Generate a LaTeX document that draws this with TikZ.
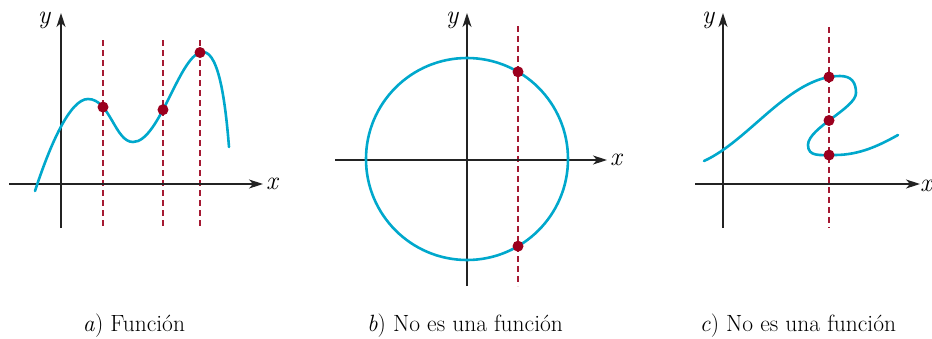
\documentclass[tikz,border=0pt]{standalone}
\usepackage{fontspec}
\usetikzlibrary{arrows.meta,intersections}
\definecolor{axisgrey}{RGB}{35,35,35}
\definecolor{curvecyan}{RGB}{0,168,204}
\definecolor{linered}{RGB}{165,25,50}
\definecolor{dotred}{RGB}{155,0,30}
\tikzset{
  axis/.style={draw=axisgrey,line width=1.1pt,
    -{Stealth[length=14pt,width=9pt,inset=4pt]}},
  graph/.style={draw=curvecyan,line width=2.6pt,line cap=round},
  vertline/.style={draw=linered,line width=1.3pt,dash pattern=on 6pt off 4pt},
  hit/.style={circle,fill=dotred,inner sep=0pt,minimum size=11pt},
  axlabel/.style={font=\fontsize{26}{26}\selectfont\itshape,inner sep=0pt},
  caption/.style={font=\fontsize{23.5}{26}\selectfont,anchor=base,inner sep=0pt}
}

\begin{document}
\begin{tikzpicture}[x=1pt,y=-1pt]
  \useasboundingbox (0,0) rectangle (932,338);

  % a) function
  \draw[vertline,name path=va1] (103,40) -- (103,228);
  \draw[vertline,name path=va2] (163,40) -- (163,228);
  \draw[vertline,name path=va3] (200,40) -- (200,228);
  \draw[axis] (9,184) -- (263,184);
  \draw[axis] (61,228) -- (61,13);
  \node[axlabel] (xa) at (272,184) {x};
  \node[axlabel] (ya) at (44,20) {y};
  \draw[graph,name path=fa] (35,191) .. controls (50,145) and (70,99) .. (88,99)
    .. controls (110,99) and (115,142) .. (133,142)
    .. controls (160,142) and (180,52) .. (203,52)
    .. controls (220,52) and (226,110) .. (229,147);
  \path[name intersections={of=fa and va1,by=pa1}];
  \path[name intersections={of=fa and va2,by=pa2}];
  \path[name intersections={of=fa and va3,by=pa3}];
  \node[hit] (dota1) at (pa1) {};
  \node[hit] (dota2) at (pa2) {};
  \node[hit] (dota3) at (pa3) {};
  \node[caption] (capa) at (134,331) {\textit{a}) Función};

  % b) circle
  \draw[vertline,name path=vb] (518,26) -- (518,286);
  \draw[axis] (335,160) -- (607,160);
  \draw[axis] (467,286) -- (467,13);
  \node[axlabel] (xb) at (616,160) {x};
  \node[axlabel] (yb) at (452,20) {y};
  \draw[graph,name path=fb] (467,159) circle[radius=101];
  \path[name intersections={of=fb and vb,by={pb1,pb2}}];
  \node[hit] (dotb1) at (pb1) {};
  \node[hit] (dotb2) at (pb2) {};
  \node[caption] (capb) at (465,331) {\textit{b}) No es una función};

  % c) s-curve
  \draw[vertline,name path=vc] (829,27) -- (829,228);
  \draw[axis] (695,184) -- (920,184);
  \draw[axis] (723,228) -- (723,13);
  \node[axlabel] (xc) at (926,186) {x};
  \node[axlabel] (yc) at (708,20) {y};
  \draw[graph,name path=fc] (704,161) .. controls (750,140) and (790,76) .. (840,76)
    .. controls (852,76) and (856,83) .. (856,93)
    .. controls (856,108) and (808,128) .. (808,145)
    .. controls (808,157) and (820,155) .. (835,155)
    .. controls (860,155) and (880,145) .. (898,135);
  \path[name intersections={of=fc and vc,by={pc1,pc2,pc3}}];
  \node[hit] (dotc1) at (pc1) {};
  \node[hit] (dotc2) at (pc2) {};
  \node[hit] (dotc3) at (pc3) {};
  \node[caption] (capc) at (798,331) {\textit{c}) No es una función};
\end{tikzpicture}
\end{document}
